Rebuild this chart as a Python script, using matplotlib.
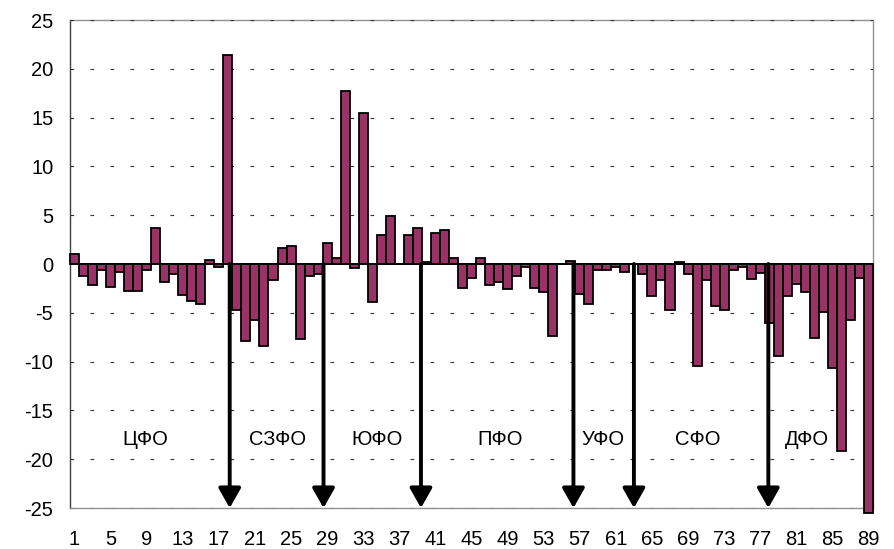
import matplotlib
matplotlib.use("Agg")
import matplotlib.pyplot as plt
import numpy as np

plt.rcParams['font.family'] = ['Liberation Sans', 'DejaVu Sans']
plt.rcParams['lines.scale_dashes'] = False

regions = list(range(1, 90))
values = [
    1.0, -1.2, -2.2, -0.6, -2.4, -0.8, -2.8, -2.8, -0.6, 3.7,
    -1.8, -1.0, -3.2, -3.8, -4.1, 0.4, -0.35, 21.4, -4.7, -7.9,
    -5.7, -8.4, -1.6, 1.6, 1.8, -7.7, -1.2, -1.0, 2.2, 0.6,
    17.7, -0.4, 15.5, -3.9, 3.0, 4.9, 0.0, 3.0, 3.65, 0.2,
    3.2, 3.5, 0.6, -2.5, -1.4, 0.6, -2.2, -1.8, -2.6, -1.2,
    -0.35, -2.5, -2.9, -7.4, 0.0, 0.35, -3.1, -4.1, -0.6, -0.6,
    -0.3, -0.85, 0.0, -1.0, -3.3, -1.6, -4.7, 0.25, -1.0, -10.5,
    -1.6, -4.3, -4.7, -0.6, -0.35, -1.5, -0.95, -6.0, -9.45, -3.3,
    -2.1, -2.85, -7.6, -4.9, -10.65, -19.2, -5.75, -1.45, -25.5,
]
tick_labels = [str(i) for i in range(1, 90, 4)]
y_ticks = list(range(-25, 26, 5))

district_names = ['ЦФО', 'СЗФО', 'ЮФО', 'ПФО', 'УФО', 'СФО', 'ДФО']
district_label_x = [8.8, 23.5, 34.5, 48.2, 59.6, 70.1, 82.2]
boundary_x = [18.2, 28.6, 39.4, 56.3, 63.0, 77.9]

fig = plt.figure(figsize=(8.94, 5.49), dpi=100)
ax = fig.add_axes([70/894, 1-508/549, (873-70)/894, (508-20)/549])

ax.bar(regions, values, width=1.0, color='#993366', edgecolor='black',
       linewidth=1.3, zorder=2, clip_on=False)

ax.set_xlim(0.5, 89.5)
ax.set_ylim(-25, 25)
ax.set_yticks(y_ticks)
ax.set_yticklabels([str(v) for v in y_ticks])
ax.set_xticks(list(range(1, 90, 4)))
ax.set_xticklabels(tick_labels)
ax.tick_params(axis='y', length=0, pad=12, labelsize=14.5)
ax.tick_params(axis='x', length=0, pad=16, labelsize=14.5)

for y in y_ticks:
    if y == 0:
        continue
    ax.axhline(y, color='#333333', lw=0.8, linestyle=(0, (2.6, 11.8)), zorder=1.5)

ax.axhline(0, color='black', lw=1.2, zorder=2.5)

for name, sp in ax.spines.items():
    sp.set_color('#909090')
    sp.set_linewidth(1.0)
    sp.set_zorder(1)
ax.spines['left'].set_color('#404040')

for bx in boundary_x:
    ax.annotate('', xy=(bx, -25), xytext=(bx, 0),
                arrowprops=dict(arrowstyle='-|>,head_length=0.6,head_width=0.34',
                                mutation_scale=20, lw=2.8, color='black',
                                shrinkA=0, shrinkB=0),
                zorder=3, annotation_clip=False)

for name, lx in zip(district_names, district_label_x):
    ax.text(lx, -18, name, ha='center', va='center', fontsize=14.5, zorder=4)

fig.savefig('out.png', dpi=100, facecolor='white')
